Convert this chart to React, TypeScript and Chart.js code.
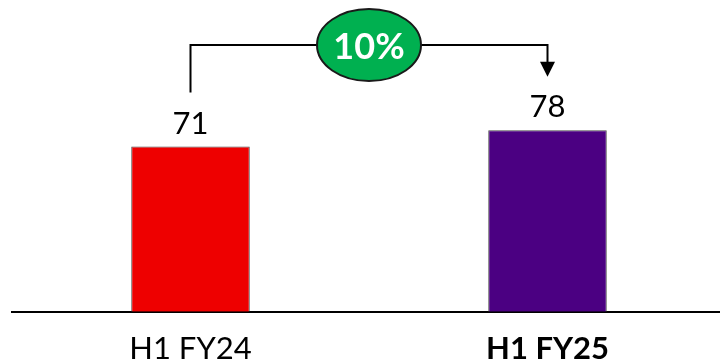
import React, { useEffect, useRef } from "react";
import { Chart, registerables, Plugin } from "chart.js";

Chart.register(...registerables);

// Half-year revenue comparison
const categories: string[] = ["H1 FY24", "H1 FY25"];
const values: number[] = [71, 78];
const barColors: string[] = ["#EE0000", "#4B0082"];
const boldCategory: boolean[] = [false, true];
const yAxisMax = 134;

const FONT = "Lato, 'Open Sans', sans-serif";

// Growth from the first period to the second, shown in the green badge
const growthPct = Math.round(((values[1] - values[0]) / values[0]) * 100);
const growthLabel = `${growthPct}%`;

const annotationPlugin: Plugin<"bar"> = {
  id: "growthAnnotations",
  afterDatasetsDraw(chart) {
    const { ctx } = chart;
    const bars = chart.getDatasetMeta(0).data as any[];
    if (bars.length < 2) return;

    ctx.save();

    // value labels above each bar
    ctx.fillStyle = "#000000";
    ctx.font = `31px ${FONT}`;
    ctx.textAlign = "center";
    ctx.textBaseline = "alphabetic";
    bars.forEach((bar, i) => {
      ctx.fillText(String(values[i]), bar.x, bar.y - 13);
    });

    // connector from the first label to an arrow above the second label
    const lineY = 45;
    const x1 = bars[0].x;
    const x2 = bars[1].x;
    const startY = bars[0].y - 54;
    const tipY = bars[1].y - 53.5;
    const headH = 15;
    const headHalfW = 7.5;

    ctx.strokeStyle = "#000000";
    ctx.lineWidth = 2;
    ctx.lineJoin = "miter";
    ctx.beginPath();
    ctx.moveTo(x1, startY);
    ctx.lineTo(x1, lineY);
    ctx.lineTo(x2, lineY);
    ctx.lineTo(x2, tipY - headH + 1);
    ctx.stroke();

    ctx.fillStyle = "#000000";
    ctx.beginPath();
    ctx.moveTo(x2 - headHalfW, tipY - headH);
    ctx.lineTo(x2 + headHalfW, tipY - headH);
    ctx.lineTo(x2, tipY);
    ctx.closePath();
    ctx.fill();

    // growth badge
    const cx = (x1 + x2) / 2;
    ctx.beginPath();
    ctx.ellipse(cx, lineY, 52, 36, 0, 0, Math.PI * 2);
    ctx.fillStyle = "#00B050";
    ctx.fill();
    ctx.lineWidth = 2;
    ctx.strokeStyle = "#1a1a1a";
    ctx.stroke();

    ctx.fillStyle = "#FFFFFF";
    ctx.font = `bold 36px ${FONT}`;
    ctx.textAlign = "center";
    ctx.textBaseline = "middle";
    ctx.fillText(growthLabel, cx, lineY + 2);

    ctx.restore();
  },
};

export default function App() {
  const canvasRef = useRef<HTMLCanvasElement | null>(null);

  useEffect(() => {
    const canvas = canvasRef.current;
    if (!canvas) return;

    const chart = new Chart(canvas, {
      type: "bar",
      data: {
        labels: categories,
        datasets: [
          {
            data: values,
            backgroundColor: barColors,
            borderColor: "#4a4a4a",
            borderWidth: 1,
            barPercentage: 0.332,
            categoryPercentage: 1,
          },
        ],
      },
      options: {
        responsive: false,
        animation: false,
        layout: { padding: { left: 12, right: 0, top: 0, bottom: 0 } },
        plugins: {
          legend: { display: false },
          tooltip: { enabled: false },
        },
        scales: {
          x: {
            grid: { display: false, drawTicks: false },
            border: { display: true, color: "#000000", width: 2 },
            ticks: {
              color: "#000000",
              padding: 24,
              font: (c: any) => ({
                family: FONT,
                size: 31,
                lineHeight: 0.85,
                weight: boldCategory[c.index] ? "bold" : "normal",
              }),
            },
          },
          y: {
            display: false,
            min: 0,
            max: yAxisMax,
          },
        },
      },
      plugins: [annotationPlugin],
    });

    return () => chart.destroy();
  }, []);

  // The canvas runs a little past the visible frame on the right and bottom,
  // so the plot area ends beyond the edge while the frame stays 720x362.
  return (
    <div
      style={{
        position: "absolute",
        left: 0,
        top: 0,
        width: 720,
        height: 362,
        overflow: "hidden",
        background: "#ffffff",
      }}
    >
      <canvas ref={canvasRef} width={726} height={386} style={{ display: "block" }} />
    </div>
  );
}
